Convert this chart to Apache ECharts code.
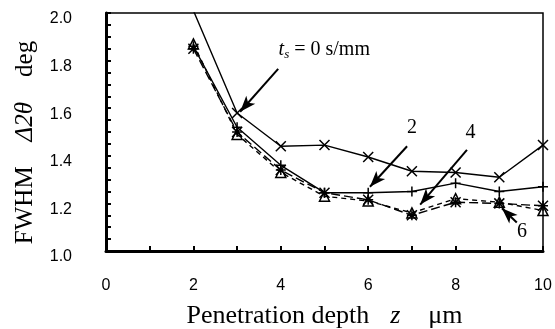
<!DOCTYPE html>
<html>
<head>
<meta charset="utf-8">
<script src="https://cdn.jsdelivr.net/npm/echarts@6/dist/echarts.min.js"></script>
<style>
  html, body { margin: 0; padding: 0; background: #fff; }
  #chart { width: 555px; height: 329px; }
</style>
</head>
<body>
<div id="chart"></div>
<script>
// Penetration depth (um)
const depths = [2, 3, 4, 5, 6, 7, 8, 9, 10];
// FWHM (deg) for each ts (s/mm)
const fwhm_ts0 = [2.01, 1.58, 1.44, 1.445, 1.395, 1.335, 1.33, 1.31, 1.445];
const fwhm_ts2 = [1.86, 1.52, 1.36, 1.245, 1.245, 1.25, 1.285, 1.25, 1.27];
const fwhm_ts4 = [1.85, 1.50, 1.34, 1.245, 1.215, 1.15, 1.205, 1.20, 1.19];
const fwhm_ts6 = [1.87, 1.49, 1.33, 1.23, 1.21, 1.16, 1.22, 1.205, 1.17];
const xTicks = [0, 2, 4, 6, 8, 10];
const yTicks = [1.0, 1.2, 1.4, 1.6, 1.8, 2.0];

const serif = 'Liberation Serif, Times New Roman, serif';
const sans = 'Liberation Sans, Arial, sans-serif';

const SYM_X = 'path://M0,0L10,10M10,0L0,10';
const SYM_PLUS = 'path://M5,0L5,10M0,5L10,5';
const SYM_STAR = 'path://M0,0L10,10M10,0L0,10M5,0L5,10M0,5L10,5';
const SYM_TRI = 'path://M5,0L10,9L0,9Z';

const pairs = (ys) => depths.map((x, i) => [x, ys[i]]);

const arrowLine = (from, to) => ([
    { coord: from, symbol: 'none' },
    { coord: to, symbol: 'arrow' }
]);

function makeSeries(name, ys, symbol, type, extra) {
    return Object.assign({
        name: name,
        type: 'line',
        data: pairs(ys),
        symbol: symbol,
        symbolSize: 10,
        clip: true,
        lineStyle: { color: '#000', width: 1.4, type: type },
        itemStyle: { color: 'rgba(0,0,0,0)', borderColor: '#000', borderWidth: 1.5 },
        emphasis: { disabled: true },
        z: 3
    }, extra || {});
}

let myChart = echarts.init(document.getElementById('chart'));

const option = {
    backgroundColor: '#fff',
    animation: false,
    grid: {
        left: 106, right: 12, top: 13, bottom: 78,
        outerBoundsMode: 'none',
        show: true, borderColor: '#000', borderWidth: 1.5
    },
    xAxis: {
        type: 'value',
        min: 0, max: 10, interval: 2,
        name: '{n|Penetration depth}{g| }{i|z}{h| }{n|μm}',
        nameLocation: 'middle',
        nameGap: 52,
        nameTextStyle: {
            rich: {
                n: { fontFamily: serif, fontSize: 26, color: '#000' },
                i: { fontFamily: serif, fontSize: 26, fontStyle: 'italic', color: '#000' },
                g: { fontFamily: serif, fontSize: 26, width: 21 },
                h: { fontFamily: serif, fontSize: 26, width: 28 }
            }
        },
        axisLine: { lineStyle: { color: '#000', width: 3 } },
        axisTick: { inside: true, length: 5, lineStyle: { color: '#000', width: 2 } },
        minorTick: { show: true, splitNumber: 2, length: 5, lineStyle: { color: '#000', width: 2 } },
        splitLine: { show: false },
        axisLabel: {
            fontFamily: sans, fontSize: 16, color: '#000', margin: 27,
            formatter: v => (xTicks.indexOf(v) >= 0 ? String(v) : '')
        }
    },
    yAxis: {
        type: 'value',
        min: 1.0, max: 2.0, interval: 0.2,
        name: '{n|FWHM}{g| }{i|Δ2θ}{g| }{n|deg}{e| }',
        nameLocation: 'middle',
        nameRotate: 90,
        nameGap: 68,
        nameTextStyle: {
            rich: {
                n: { fontFamily: serif, fontSize: 25, color: '#000' },
                i: { fontFamily: serif, fontSize: 25, fontStyle: 'italic', color: '#000' },
                g: { fontFamily: serif, fontSize: 25, width: 25 },
                e: { fontFamily: serif, fontSize: 25, width: 21 }
            }
        },
        axisLine: { show: true, lineStyle: { color: '#000', width: 3 } },
        axisTick: { inside: true, length: 5, lineStyle: { color: '#000', width: 2 } },
        minorTick: { show: true, splitNumber: 4, length: 5, lineStyle: { color: '#000', width: 2 } },
        splitLine: { show: false },
        axisLabel: {
            fontFamily: sans, fontSize: 16, color: '#000', margin: 34,
            verticalAlign: 'top', lineHeight: 12,
            formatter: v => yTicks.find(t => Math.abs(t - v) < 1e-6) !== undefined ? v.toFixed(1) : ''
        }
    },
    series: [
        makeSeries('ts0', fwhm_ts0, SYM_X, 'solid', {
            markLine: {
                silent: true,
                symbolSize: [9, 16],
                lineStyle: { color: '#000', width: 2, type: 'solid' },
                label: { show: false },
                data: [
                    arrowLine([3.94, 1.765], [3.07, 1.585]),
                    arrowLine([6.89, 1.44], [6.04, 1.27]),
                    arrowLine([8.26, 1.425], [7.19, 1.195]),
                    arrowLine([9.40, 1.12], [9.06, 1.18])
                ]
            },
            markPoint: {
                silent: true,
                symbol: 'circle',
                symbolSize: 0,
                data: [
                    {
                        coord: [3.95, 1.845],
                        label: {
                            show: true, position: 'right', distance: 0,
                            formatter: '{t|t}{s|s}{n| = 0 s/mm}',
                            rich: {
                                t: { fontFamily: serif, fontSize: 20, fontStyle: 'italic', color: '#000' },
                                s: { fontFamily: serif, fontSize: 13, fontStyle: 'italic', color: '#000', padding: [10, 0, 0, 0] },
                                n: { fontFamily: serif, fontSize: 20, color: '#000' }
                            }
                        }
                    },
                    { coord: [7.0, 1.517], label: { show: true, position: 'inside', formatter: '2', fontFamily: serif, fontSize: 20, color: '#000' } },
                    { coord: [8.34, 1.496], label: { show: true, position: 'inside', formatter: '4', fontFamily: serif, fontSize: 20, color: '#000' } },
                    { coord: [9.52, 1.08], label: { show: true, position: 'inside', formatter: '6', fontFamily: serif, fontSize: 20, color: '#000' } }
                ]
            }
        }),
        makeSeries('ts2', fwhm_ts2, SYM_PLUS, 'solid'),
        makeSeries('ts4', fwhm_ts4, SYM_STAR, [9, 4]),
        makeSeries('ts6', fwhm_ts6, SYM_TRI, [5, 4])
    ]
};

if (option && typeof option === 'object') {
    myChart.setOption(option, true);
    window.onresize = function () {
        myChart.resize();
    };
}
</script>
</body>
</html>
